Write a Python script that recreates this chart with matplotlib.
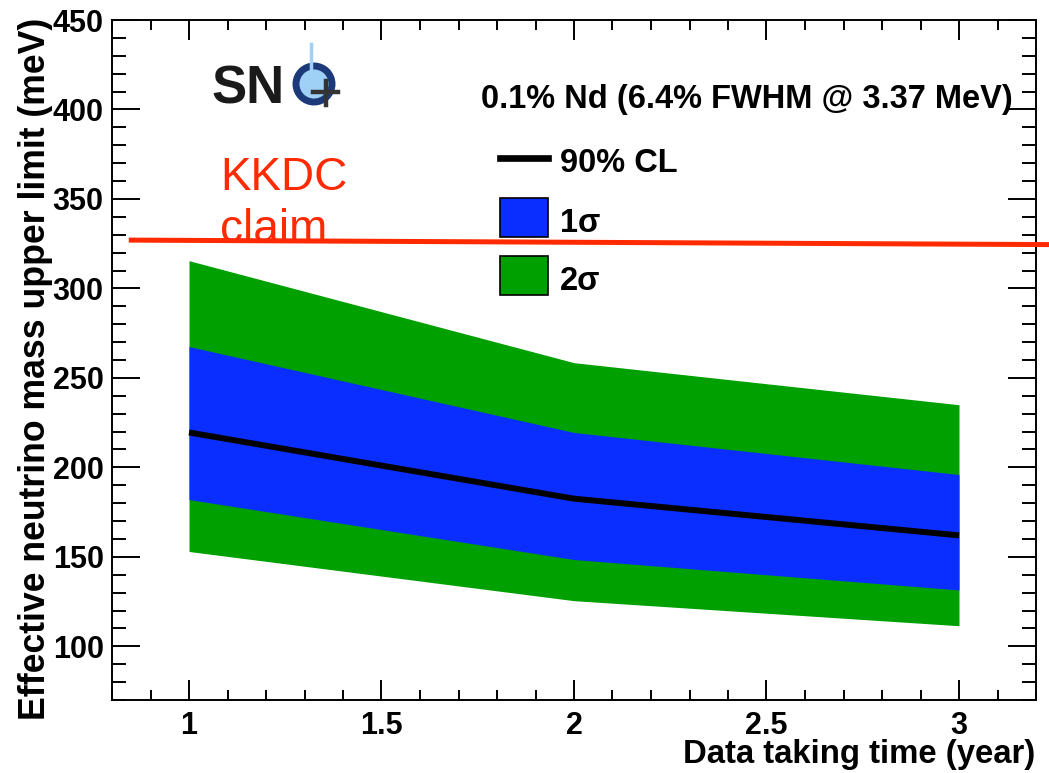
import matplotlib
matplotlib.use("Agg")
import matplotlib.pyplot as plt
from matplotlib.patches import Rectangle, Circle
from matplotlib.ticker import MultipleLocator

# data (meV)
years = [1, 2, 3]
cl90 = [219.5, 182.5, 162.0]
sig1_lo = [182.0, 148.5, 131.5]
sig1_hi = [267.5, 219.5, 196.0]
sig2_lo = [153.0, 125.5, 111.5]
sig2_hi = [315.5, 258.5, 235.0]
kkdc_x = [0.85, 3.23]
kkdc_y = [327.0, 324.5]

W, H = 1049, 773
fig = plt.figure(figsize=(W / 100, H / 100), dpi=100)
plt.rcParams['font.family'] = ['Liberation Sans', 'DejaVu Sans']

def fx(px):
    return px / W

def fy(py):
    return (H - py) / H

ax = fig.add_axes([fx(112), fy(700), fx(1036) - fx(112), fy(20) - fy(700)])

green = '#00a000'
blue = '#0a2eff'
red = '#ff2a00'

ax.fill_between(years, sig2_lo, sig2_hi, color=green, lw=0)
ax.fill_between(years, sig1_lo, sig1_hi, color=blue, lw=0)
ax.plot(years, cl90, color='black', lw=4.3, solid_capstyle='butt')
ax.plot(kkdc_x, kkdc_y, color=red, lw=3.6, clip_on=False, zorder=5)

ax.set_xlim(0.8, 3.2)
ax.set_ylim(70, 450)
ax.xaxis.set_minor_locator(MultipleLocator(0.1))
ax.yaxis.set_minor_locator(MultipleLocator(10))
ax.set_xticks([1, 1.5, 2, 2.5, 3])
ax.set_xticklabels(['1', '1.5', '2', '2.5', '3'])
ax.set_yticks([100, 150, 200, 250, 300, 350, 400, 450])

ax.tick_params(axis='both', which='both', direction='in', top=True, right=True,
               width=1.4, labelsize=22)
ax.tick_params(axis='x', which='major', length=14.5, pad=8)
ax.tick_params(axis='x', which='minor', length=7.2)
ax.tick_params(axis='y', which='major', length=20, pad=6)
ax.tick_params(axis='y', which='minor', length=10)
for lab in ax.get_xticklabels() + ax.get_yticklabels():
    lab.set_fontweight('bold')
for sp in ax.spines.values():
    sp.set_linewidth(1.4)

fig.text(fx(1035), fy(755), 'Data taking time (year)', ha='right', va='center',
         fontsize=23.7, fontweight='bold')
fig.text(fx(36), fy(18), 'Effective neutrino mass upper limit (meV)', rotation=90,
         ha='center', va='top', fontsize=25.7, fontweight='bold')

# KKDC claim label
fig.text(fx(220), fy(178), 'KKDC', color=red, fontsize=33, ha='left', va='center')
fig.text(fx(220), fy(230), 'claim', color=red, fontsize=33, ha='left', va='center')

# legend
fig.text(fx(481), fy(108), '0.1% Nd (6.4% FWHM @ 3.37 MeV)', ha='left', va='baseline',
         fontsize=23.5, fontweight='bold')
fig.add_artist(plt.Line2D([fx(500), fx(548)], [fy(158), fy(158)], color='black', lw=4.8,
                          transform=fig.transFigure))
fig.text(fx(560), fy(172), '90% CL', ha='left', va='baseline', fontsize=23.5,
         fontweight='bold')
for ytop, base, col, lab in [(198, 232, blue, '1σ'), (256, 290, green, '2σ')]:
    fig.add_artist(Rectangle((fx(500), fy(ytop + 39)), fx(48), 39 / H, facecolor=col,
                             edgecolor='black', lw=1.2, transform=fig.transFigure))
    fig.text(fx(560), fy(base), lab, ha='left', va='baseline', fontsize=23.5,
             fontweight='bold')

# SNO+ logo
fig.text(fx(211), fy(103), 'SN', ha='left', va='baseline', fontsize=38, fontweight='bold',
         color='#1a1a1a')
cx, cy = 314 / 100, (H - 84) / 100
fig.add_artist(Circle((cx, cy), 0.18, facecolor='#9fd0f5', edgecolor='#1c3a7a', lw=5,
                      transform=fig.dpi_scale_trans))
fig.add_artist(plt.Line2D([cx - 0.03, cx - 0.03], [cy + 0.14, cy + 0.40], color='#9fd0f5',
                          lw=2.5, transform=fig.dpi_scale_trans))
fig.add_artist(plt.Line2D([cx - 0.01, cx + 0.24], [cy - 0.08, cy - 0.08], color='#333333',
                          lw=3.2, transform=fig.dpi_scale_trans))
fig.add_artist(plt.Line2D([cx + 0.115, cx + 0.115], [cy + 0.03, cy - 0.21], color='#333333',
                          lw=3.2, transform=fig.dpi_scale_trans))

fig.savefig('out.png', dpi=100)
